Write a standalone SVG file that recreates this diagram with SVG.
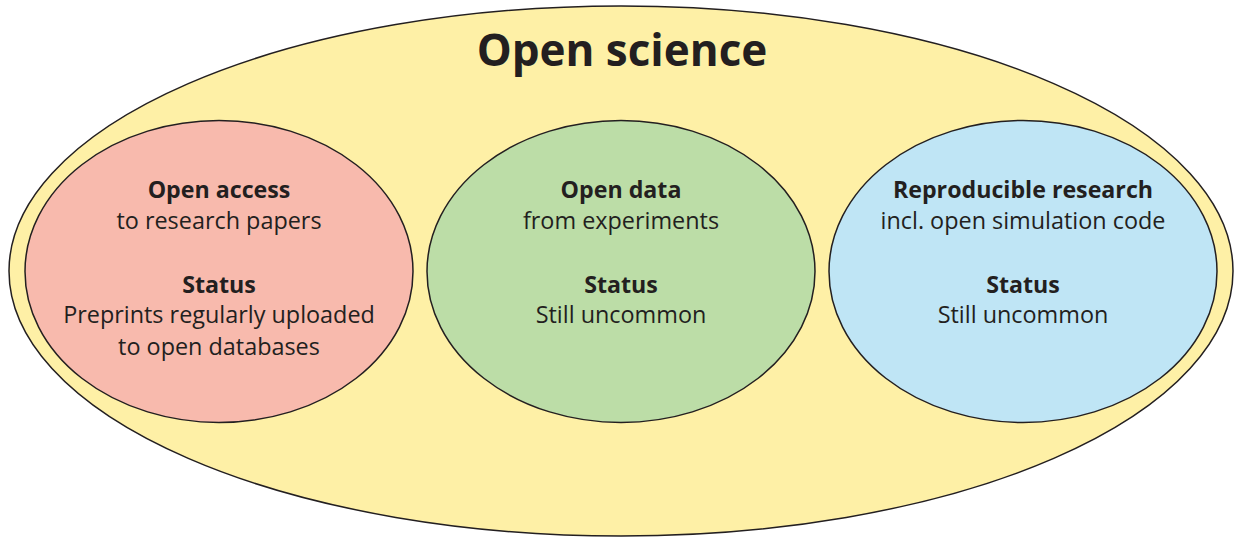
<svg xmlns="http://www.w3.org/2000/svg" width="1235" height="537" viewBox="0 0 1235 537">
<style>
.e{stroke:#231F20;stroke-width:1.5}
text{font-family:"Open Sans","Liberation Sans",sans-serif;fill:#231F20;text-anchor:middle}
.t{font-size:23.4px}
.b{font-size:23.2px;font-weight:bold}
.h{font-size:44px;font-weight:bold}
</style>
<rect width="1235" height="537" fill="#ffffff"/>
<g id="open-science">
<ellipse class="e" cx="621" cy="271" rx="612" ry="265" fill="#FEF0A6"/>
<text class="h" x="622" y="66">Open science</text>
</g>
<g id="open-access">
<ellipse class="e" cx="219" cy="271.5" rx="194" ry="151" fill="#F8BAAD"/>
<text class="b" x="219" y="198">Open access</text>
<text class="t" x="219" y="229">to research papers</text>
<text class="b" x="219" y="293">Status</text>
<text class="t" x="219" y="323">Preprints regularly uploaded</text>
<text class="t" x="219" y="355">to open databases</text>
</g>
<g id="open-data">
<ellipse class="e" cx="621" cy="271.5" rx="194" ry="151" fill="#BCDDA7"/>
<text class="b" x="621" y="198">Open data</text>
<text class="t" x="621" y="229">from experiments</text>
<text class="b" x="621" y="293">Status</text>
<text class="t" x="621" y="323">Still uncommon</text>
</g>
<g id="reproducible-research">
<ellipse class="e" cx="1023" cy="271.5" rx="194" ry="151" fill="#BFE5F5"/>
<text class="b" x="1023" y="198">Reproducible research</text>
<text class="t" x="1023" y="229">incl. open simulation code</text>
<text class="b" x="1023" y="293">Status</text>
<text class="t" x="1023" y="323">Still uncommon</text>
</g>
<g id="connectors"></g>
</svg>
